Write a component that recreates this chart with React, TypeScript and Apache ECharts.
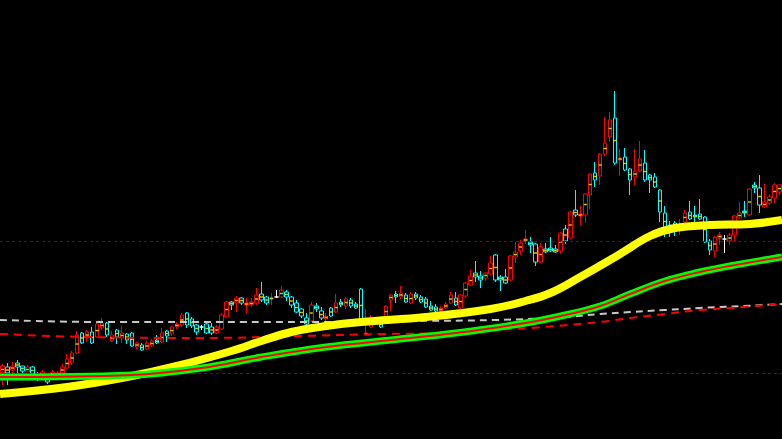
import React, { useEffect, useRef } from "react";
import * as echarts from "echarts";

const opens = [
  66, 72, 69, 76, 73, 67, 72, 65, 62, 62,
  63, 63, 66, 71, 76, 86, 106, 101, 107, 102,
  111, 116, 98, 109, 101, 105, 106, 92, 94, 90,
  93, 99, 97, 108, 105, 112, 114, 126, 120, 114,
  112, 115, 112, 106, 110, 122, 137, 136, 141, 134,
  134, 136, 145, 142, 140, 142, 142, 147, 142, 136,
  130, 121, 118, 133, 128, 120, 131, 127, 137, 133,
  139, 135, 150, 104, 112, 119, 117, 122, 139, 145,
  142, 144, 136, 145, 142, 140, 133, 132, 128, 131,
  136, 141, 131, 143, 154, 166, 163, 161, 165, 184,
  162, 162, 159, 182, 188, 198, 197, 195, 177, 190,
  191, 190, 188, 210, 201, 229, 223, 224, 244, 266,
  263, 285, 302, 321, 279, 282, 270, 262, 268, 276,
  264, 262, 249, 226, 214, 216, 213, 217, 227, 224,
  225, 222, 198, 188, 201, 200, 198, 204, 221, 228,
  224, 254, 251, 232, 236, 241, 247,
];
const closes = [
  73, 66, 73, 72, 68, 72, 65, 60, 67, 57,
  67, 66, 72, 80, 86, 104, 96, 107, 96, 115,
  116, 104, 104, 102, 106, 99, 93, 96, 89, 96,
  98, 96, 106, 103, 112, 115, 124, 114, 113, 107,
  112, 106, 106, 112, 124, 137, 134, 141, 136, 136,
  137, 144, 139, 136, 141, 142, 149, 142, 134, 127,
  123, 115, 134, 130, 121, 123, 123, 136, 134, 140,
  133, 131, 117, 106, 122, 119, 112, 133, 144, 142,
  146, 137, 145, 141, 137, 132, 129, 128, 131, 135,
  144, 134, 144, 156, 163, 162, 159, 166, 176, 159,
  159, 156, 183, 187, 196, 200, 194, 177, 192, 187,
  188, 187, 206, 198, 227, 224, 225, 245, 265, 259,
  285, 296, 319, 276, 281, 269, 259, 268, 280, 259,
  259, 252, 227, 209, 212, 212, 215, 226, 220, 222,
  220, 197, 189, 202, 204, 200, 204, 223, 226, 226,
  250, 251, 234, 237, 242, 254, 254,
];
const lows = [
  54, 54, 66, 66, 66, 67, 63, 58, 60, 55,
  61, 61, 64, 70, 74, 85, 95, 97, 95, 101,
  109, 102, 97, 95, 96, 95, 92, 90, 88, 89,
  92, 95, 96, 97, 103, 110, 112, 111, 111, 104,
  109, 105, 104, 105, 109, 121, 129, 127, 134, 125,
  132, 134, 137, 134, 134, 141, 141, 138, 131, 126,
  121, 113, 117, 127, 119, 116, 122, 126, 132, 130,
  131, 130, 116, 104, 111, 116, 111, 121, 128, 136,
  140, 136, 135, 139, 136, 131, 128, 127, 127, 130,
  135, 133, 130, 141, 153, 157, 151, 158, 164, 157,
  148, 155, 158, 176, 184, 195, 186, 173, 176, 186,
  187, 186, 185, 195, 200, 222, 214, 216, 230, 252,
  254, 283, 297, 274, 263, 268, 244, 254, 267, 257,
  246, 251, 217, 202, 202, 203, 204, 216, 219, 212,
  219, 196, 184, 182, 194, 186, 194, 197, 220, 222,
  223, 246, 226, 231, 234, 236, 244,
];
const highs = [
  75, 76, 77, 79, 73, 74, 73, 67, 69, 64,
  69, 68, 75, 85, 88, 108, 107, 109, 112, 117,
  121, 117, 108, 110, 113, 106, 107, 97, 96, 98,
  100, 104, 111, 109, 113, 117, 126, 127, 122, 115,
  114, 116, 116, 114, 126, 138, 138, 143, 142, 141,
  141, 151, 157, 143, 146, 149, 153, 149, 143, 139,
  131, 126, 137, 136, 132, 126, 132, 145, 140, 142,
  141, 137, 151, 130, 124, 122, 118, 134, 145, 148,
  153, 146, 147, 147, 144, 142, 138, 135, 133, 137,
  147, 147, 145, 157, 169, 178, 168, 167, 183, 185,
  164, 170, 184, 197, 199, 209, 202, 196, 196, 196,
  202, 194, 207, 214, 228, 249, 233, 246, 266, 277,
  286, 322, 327, 348, 290, 291, 271, 290, 298, 289,
  265, 266, 250, 233, 218, 218, 220, 229, 238, 233,
  240, 223, 200, 203, 207, 204, 206, 224, 237, 238,
  251, 257, 264, 255, 245, 256, 255,
];

// moving-average lines: [bar index, value]
const maYellow = [
  [-0.5, 45], [13, 52], [25, 62], [35, 73], [46, 88], [52, 98], [58, 107],
  [65, 113], [72, 117], [85, 122], [98, 130], [105, 138], [110, 146],
  [116, 162], [124, 185], [130, 203], [135, 211], [142, 214], [150, 215],
  [156.5, 219],
];
const maGreen = [
  [-0.5, 62], [26, 64], [40, 71], [52, 82], [65, 92], [78, 99], [91, 106],
  [105, 116], [113, 124], [120, 133], [126, 145], [133, 158], [140, 167],
  [146, 173], [156.5, 182],
];
const maRedDash = [
  [-0.5, 105], [17, 102], [40, 101], [60, 103], [76, 105], [89, 106], [99, 109],
  [106, 111], [120, 117], [126, 121], [133, 125], [140, 129], [146, 131], [156.5, 135],
];
const maWhiteDash = [
  [-0.5, 119], [20, 117], [60, 117], [80, 118], [99, 119], [113, 122],
  [120, 125], [126, 127], [133, 129], [140, 131], [153, 134], [156.5, 135],
];
const levels = [198, 66];

export default function App() {
  const ref = useRef<HTMLDivElement>(null);
  useEffect(() => {
    const chart = echarts.init(ref.current!, null, { renderer: "svg" });
    const n = opens.length;
    const categories = opens.map((_, i) => String(i + 1));
    const candles = opens.map((o, i) => [o, closes[i], lows[i], highs[i]]);
    const ticks = opens.map((o, i) => (o === closes[i] ? null : (o + closes[i]) / 2));
    const lineBase = {
      type: "line",
      xAxisIndex: 1,
      yAxisIndex: 0,
      showSymbol: false,
      symbol: "none",
      smooth: 0.4,
      silent: true,
      clip: true,
    };
    chart.setOption({
      animation: false,
      backgroundColor: "#000000",
      grid: { left: 0, top: 0, width: 785, height: 439, containLabel: false },
      xAxis: [
        { type: "category", data: categories, show: false, boundaryGap: true },
        { type: "value", min: -0.5, max: n - 0.5, show: false },
      ],
      yAxis: { type: "value", min: 0, max: 439, show: false, splitLine: { show: false } },
      series: [
        {
          type: "candlestick",
          data: candles,
          barWidth: 4,
          z: 2,
          silent: true,
          itemStyle: {
            color: "#000000",
            color0: "#000000",
            borderColor: "#ff0000",
            borderColor0: "#00ffff",
            borderColorDoji: "#ffffff",
            borderWidth: 1,
          },
          markLine: {
            silent: true,
            symbol: ["none", "none"],
            label: { show: false },
            lineStyle: { color: "#8b0000", type: [3, 3], width: 1 },
            data: levels.map((v) => ({ yAxis: v })),
          },
        },
        {
          type: "scatter",
          data: ticks,
          symbol: "rect",
          symbolSize: [3, 1.5],
          itemStyle: { color: "#ffff00" },
          z: 3,
          silent: true,
        },
        { ...lineBase, data: maWhiteDash, z: 4, lineStyle: { color: "#c8c8c8", width: 2, type: [7, 5] } },
        { ...lineBase, data: maRedDash, z: 4, lineStyle: { color: "#ff0000", width: 2, type: [8, 6] } },
        { ...lineBase, data: maYellow, z: 5, lineStyle: { color: "#ffff00", width: 8 } },
        { ...lineBase, data: maGreen, z: 6, lineStyle: { color: "#00ff00", width: 7 } },
        { ...lineBase, data: maGreen, z: 7, lineStyle: { color: "#ff0000", width: 2 } },
      ],
    });
    return () => chart.dispose();
  }, []);
  return (
    <div
      ref={ref}
      style={{ position: "fixed", left: 0, top: 0, width: 782, height: 439 }}
    />
  );
}
